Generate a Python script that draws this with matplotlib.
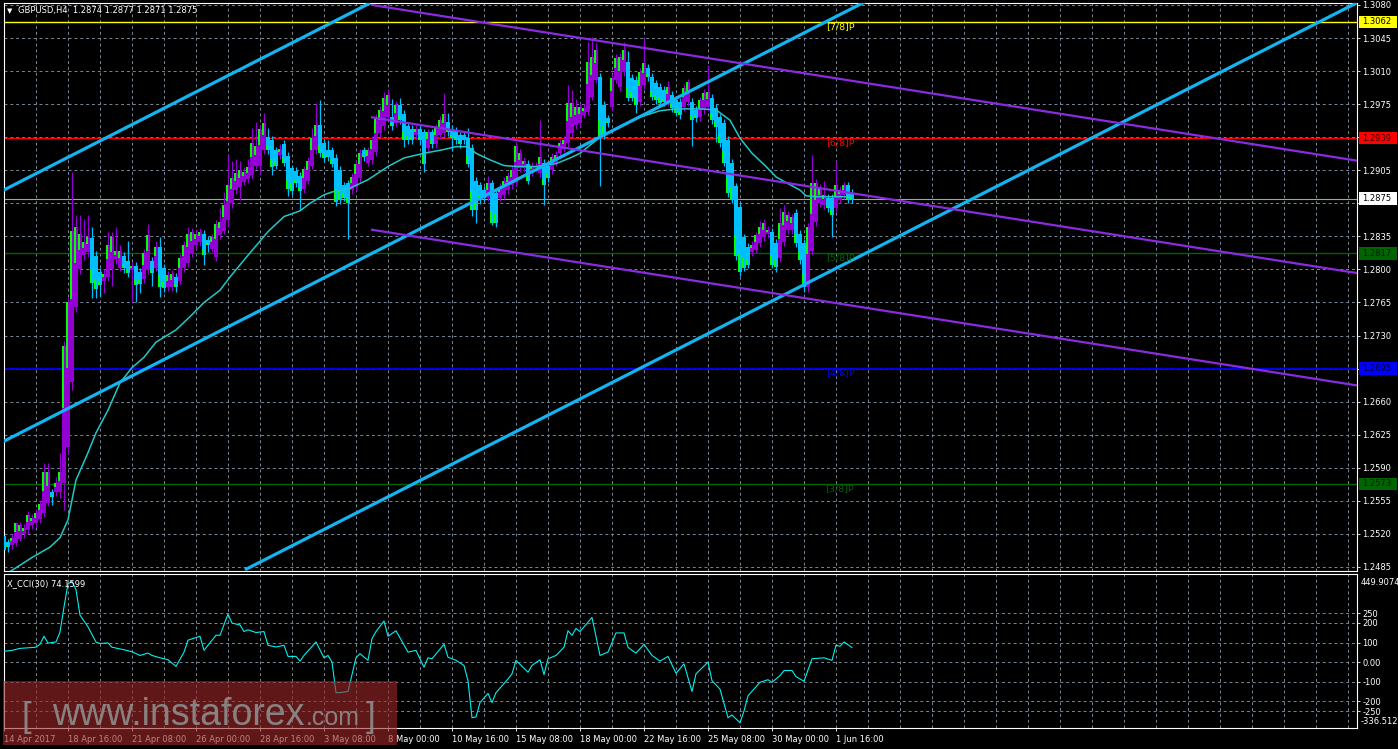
import matplotlib
matplotlib.use('Agg')

import matplotlib.pyplot as plt
from matplotlib.patches import Rectangle
from matplotlib.transforms import blended_transform_factory

# ---- GBPUSD H4 candles (bar index 0 = 14 Apr 2017 00:00) ----
opens = [
    1.2518, 1.2511, 1.2508, 1.2510, 1.2515, 1.2520, 1.2524, 1.2529, 1.2531, 1.2536,
    1.2542, 1.2553, 1.2564, 1.2564, 1.2564, 1.2574, 1.2612, 1.2681, 1.2760, 1.2800,
    1.2815, 1.2818, 1.2833, 1.2814, 1.2797, 1.2788, 1.2792, 1.2800, 1.2811, 1.2802,
    1.2814, 1.2809, 1.2799, 1.2804, 1.2797, 1.2790, 1.2799, 1.2809, 1.2802, 1.2824,
    1.2802, 1.2781, 1.2781, 1.2792, 1.2788, 1.2801, 1.2807, 1.2817, 1.2826, 1.2829,
    1.2838, 1.2831, 1.2822, 1.2813, 1.2836, 1.2841, 1.2852, 1.2870, 1.2884, 1.2887,
    1.2893, 1.2896, 1.2900, 1.2910, 1.2910, 1.2926, 1.2940, 1.2937, 1.2926, 1.2921,
    1.2933, 1.2920, 1.2907, 1.2904, 1.2899, 1.2885, 1.2894, 1.2910, 1.2926, 1.2953,
    1.2934, 1.2926, 1.2926, 1.2918, 1.2905, 1.2889, 1.2891, 1.2884, 1.2887, 1.2897,
    1.2926, 1.2913, 1.2916, 1.2924, 1.2944, 1.2952, 1.2961, 1.2961, 1.2955, 1.2974,
    1.2965, 1.2952, 1.2949, 1.2942, 1.2949, 1.2945, 1.2929, 1.2945, 1.2933, 1.2942,
    1.2944, 1.2956, 1.2949, 1.2947, 1.2942, 1.2942, 1.2939, 1.2929, 1.2894, 1.2889,
    1.2884, 1.2876, 1.2891, 1.2881, 1.2876, 1.2879, 1.2884, 1.2889, 1.2892, 1.2907,
    1.2907, 1.2912, 1.2903, 1.2907, 1.2902, 1.2913, 1.2910, 1.2905, 1.2913, 1.2923,
    1.2928, 1.2934, 1.2944, 1.2953, 1.2955, 1.2964, 1.2967, 1.2983, 1.3001, 1.3004,
    1.2974, 1.2960, 1.2972, 1.3001, 1.2993, 1.3009, 1.3020, 1.3003, 1.3001, 1.2977,
    1.2995, 1.3013, 1.3004, 1.2997, 1.2993, 1.2990, 1.2977, 1.2985, 1.2979, 1.2977,
    1.2972, 1.2977, 1.2977, 1.2969, 1.2961, 1.2969, 1.2972, 1.2982, 1.2971, 1.2961,
    1.2955, 1.2937, 1.2913, 1.2888, 1.2866, 1.2834, 1.2824, 1.2818, 1.2821, 1.2828,
    1.2834, 1.2837, 1.2840, 1.2828, 1.2812, 1.2829, 1.2842, 1.2842, 1.2860, 1.2838,
    1.2828, 1.2781, 1.2819, 1.2850, 1.2870, 1.2868, 1.2876, 1.2876, 1.2865, 1.2874,
    1.2879, 1.2889, 1.2881,
]
closes = [
    1.2503, 1.2506, 1.2516, 1.2531, 1.2529, 1.2526, 1.2540, 1.2537, 1.2542, 1.2552,
    1.2585, 1.2585, 1.2559, 1.2574, 1.2585, 1.2719, 1.2765, 1.2841, 1.2845, 1.2838,
    1.2829, 1.2834, 1.2786, 1.2779, 1.2783, 1.2795, 1.2826, 1.2834, 1.2819, 1.2820,
    1.2801, 1.2796, 1.2804, 1.2783, 1.2785, 1.2817, 1.2836, 1.2796, 1.2824, 1.2781,
    1.2780, 1.2794, 1.2795, 1.2781, 1.2812, 1.2826, 1.2838, 1.2840, 1.2838, 1.2840,
    1.2815, 1.2826, 1.2834, 1.2848, 1.2850, 1.2868, 1.2889, 1.2897, 1.2902, 1.2905,
    1.2903, 1.2908, 1.2934, 1.2931, 1.2949, 1.2955, 1.2926, 1.2908, 1.2910, 1.2928,
    1.2913, 1.2885, 1.2883, 1.2891, 1.2883, 1.2906, 1.2915, 1.2939, 1.2953, 1.2923,
    1.2918, 1.2919, 1.2912, 1.2871, 1.2873, 1.2876, 1.2870, 1.2898, 1.2912, 1.2923,
    1.2919, 1.2926, 1.2937, 1.2961, 1.2969, 1.2981, 1.2985, 1.2952, 1.2974, 1.2958,
    1.2937, 1.2937, 1.2937, 1.2949, 1.2937, 1.2912, 1.2945, 1.2933, 1.2950, 1.2958,
    1.2965, 1.2945, 1.2939, 1.2937, 1.2933, 1.2937, 1.2912, 1.2863, 1.2863, 1.2873,
    1.2876, 1.2891, 1.2849, 1.2849, 1.2887, 1.2894, 1.2899, 1.2905, 1.2931, 1.2923,
    1.2915, 1.2894, 1.2910, 1.2910, 1.2919, 1.2889, 1.2897, 1.2919, 1.2921, 1.2934,
    1.2937, 1.2976, 1.2976, 1.2972, 1.2972, 1.2971, 1.3020, 1.3025, 1.3032, 1.2940,
    1.2942, 1.2955, 1.3003, 1.3024, 1.3025, 1.3032, 1.2982, 1.2982, 1.2974, 1.3009,
    1.3019, 1.3004, 1.2983, 1.2979, 1.2976, 1.2977, 1.2993, 1.2971, 1.2966, 1.2963,
    1.2992, 1.2998, 1.2958, 1.2960, 1.2979, 1.2987, 1.2988, 1.2958, 1.2951, 1.2934,
    1.2913, 1.2881, 1.2874, 1.2814, 1.2797, 1.2802, 1.2805, 1.2826, 1.2836, 1.2845,
    1.2849, 1.2842, 1.2805, 1.2803, 1.2849, 1.2861, 1.2858, 1.2855, 1.2828, 1.2810,
    1.2781, 1.2845, 1.2892, 1.2892, 1.2886, 1.2879, 1.2865, 1.2858, 1.2889, 1.2884,
    1.2889, 1.2874, 1.2874,
]
highs = [
    1.2522, 1.2515, 1.2520, 1.2533, 1.2533, 1.2530, 1.2544, 1.2541, 1.2546, 1.2556,
    1.2595, 1.2595, 1.2568, 1.2580, 1.2606, 1.2724, 1.2771, 1.2903, 1.2858, 1.2858,
    1.2853, 1.2858, 1.2845, 1.2820, 1.2802, 1.2800, 1.2840, 1.2840, 1.2845, 1.2826,
    1.2818, 1.2830, 1.2808, 1.2808, 1.2801, 1.2822, 1.2848, 1.2813, 1.2830, 1.2834,
    1.2806, 1.2798, 1.2799, 1.2796, 1.2816, 1.2830, 1.2845, 1.2844, 1.2843, 1.2844,
    1.2842, 1.2835, 1.2838, 1.2852, 1.2865, 1.2882, 1.2921, 1.2915, 1.2917, 1.2915,
    1.2908, 1.2917, 1.2950, 1.2956, 1.2953, 1.2966, 1.2950, 1.2941, 1.2930, 1.2933,
    1.2937, 1.2924, 1.2911, 1.2908, 1.2903, 1.2910, 1.2919, 1.2950, 1.2976, 1.2979,
    1.2938, 1.2937, 1.2930, 1.2922, 1.2909, 1.2893, 1.2895, 1.2902, 1.2916, 1.2927,
    1.2930, 1.2930, 1.2941, 1.2965, 1.2973, 1.2988, 1.2991, 1.2980, 1.2978, 1.2981,
    1.2969, 1.2956, 1.2953, 1.2953, 1.2953, 1.2949, 1.2949, 1.2949, 1.2954, 1.2962,
    1.2987, 1.2966, 1.2953, 1.2951, 1.2946, 1.2946, 1.2950, 1.2933, 1.2898, 1.2893,
    1.2888, 1.2899, 1.2895, 1.2885, 1.2891, 1.2898, 1.2903, 1.2909, 1.2935, 1.2927,
    1.2919, 1.2916, 1.2914, 1.2914, 1.2958, 1.2917, 1.2914, 1.2923, 1.2925, 1.2938,
    1.2941, 1.2995, 1.2990, 1.2980, 1.2976, 1.2975, 1.3041, 1.3046, 1.3040, 1.3008,
    1.2978, 1.2964, 1.3007, 1.3028, 1.3029, 1.3041, 1.3031, 1.3007, 1.3005, 1.3013,
    1.3045, 1.3017, 1.3008, 1.3001, 1.2997, 1.2994, 1.3000, 1.2989, 1.2983, 1.2981,
    1.2996, 1.3002, 1.2981, 1.2973, 1.2983, 1.2991, 1.3016, 1.2986, 1.2975, 1.2965,
    1.2959, 1.2941, 1.2917, 1.2892, 1.2870, 1.2838, 1.2828, 1.2830, 1.2840, 1.2851,
    1.2853, 1.2846, 1.2844, 1.2832, 1.2865, 1.2868, 1.2862, 1.2859, 1.2864, 1.2842,
    1.2832, 1.2849, 1.2921, 1.2896, 1.2890, 1.2894, 1.2880, 1.2880, 1.2915, 1.2888,
    1.2893, 1.2893, 1.2885,
]
lows = [
    1.2498, 1.2501, 1.2504, 1.2507, 1.2512, 1.2516, 1.2520, 1.2525, 1.2527, 1.2532,
    1.2538, 1.2549, 1.2551, 1.2560, 1.2558, 1.2545, 1.2605, 1.2672, 1.2755, 1.2795,
    1.2810, 1.2813, 1.2770, 1.2770, 1.2772, 1.2775, 1.2788, 1.2782, 1.2806, 1.2798,
    1.2796, 1.2792, 1.2766, 1.2766, 1.2775, 1.2786, 1.2795, 1.2782, 1.2798, 1.2771,
    1.2776, 1.2777, 1.2777, 1.2776, 1.2784, 1.2797, 1.2803, 1.2813, 1.2822, 1.2825,
    1.2805, 1.2818, 1.2818, 1.2809, 1.2832, 1.2837, 1.2845, 1.2865, 1.2880, 1.2873,
    1.2889, 1.2892, 1.2896, 1.2906, 1.2900, 1.2922, 1.2922, 1.2900, 1.2906, 1.2917,
    1.2909, 1.2878, 1.2879, 1.2887, 1.2863, 1.2881, 1.2890, 1.2906, 1.2922, 1.2919,
    1.2914, 1.2915, 1.2908, 1.2867, 1.2869, 1.2872, 1.2832, 1.2880, 1.2883, 1.2893,
    1.2915, 1.2909, 1.2912, 1.2920, 1.2940, 1.2948, 1.2957, 1.2948, 1.2951, 1.2954,
    1.2930, 1.2933, 1.2933, 1.2938, 1.2933, 1.2903, 1.2925, 1.2929, 1.2929, 1.2938,
    1.2940, 1.2941, 1.2925, 1.2933, 1.2929, 1.2933, 1.2908, 1.2857, 1.2849, 1.2869,
    1.2872, 1.2872, 1.2847, 1.2845, 1.2872, 1.2875, 1.2880, 1.2885, 1.2888, 1.2903,
    1.2903, 1.2890, 1.2899, 1.2903, 1.2898, 1.2868, 1.2893, 1.2901, 1.2909, 1.2919,
    1.2924, 1.2930, 1.2940, 1.2949, 1.2951, 1.2960, 1.2963, 1.2979, 1.2997, 1.2888,
    1.2938, 1.2951, 1.2968, 1.2997, 1.2989, 1.3005, 1.2978, 1.2978, 1.2966, 1.2973,
    1.2991, 1.3000, 1.2979, 1.2975, 1.2972, 1.2973, 1.2973, 1.2967, 1.2962, 1.2959,
    1.2968, 1.2973, 1.2931, 1.2956, 1.2957, 1.2965, 1.2968, 1.2954, 1.2935, 1.2930,
    1.2909, 1.2877, 1.2870, 1.2810, 1.2793, 1.2798, 1.2801, 1.2814, 1.2817, 1.2824,
    1.2830, 1.2833, 1.2801, 1.2797, 1.2808, 1.2825, 1.2838, 1.2838, 1.2824, 1.2806,
    1.2776, 1.2776, 1.2815, 1.2846, 1.2866, 1.2864, 1.2861, 1.2834, 1.2861, 1.2870,
    1.2875, 1.2870, 1.2870,
]

# moving average (vertices)
ma_bars = [0, 7, 11.5, 14, 16, 18, 21, 23, 26, 29, 32, 35, 38, 43, 46.5,
           50, 54, 56.5, 61, 66, 70, 74, 76.5, 80, 82, 86.5, 91, 96, 100, 105,
           110, 113, 116, 118, 121.5, 125, 128, 133, 138, 141.5, 144, 149, 154, 158, 164,
           168, 174, 178, 181.5, 184, 187, 190.5, 193, 195.5, 199, 200.5, 203, 206.5, 211.5]
ma_vals = [1.2476, 1.2495, 1.2506, 1.2516, 1.2535, 1.2577, 1.2606, 1.2627, 1.2651, 1.2680,
           1.2696, 1.2707, 1.2723, 1.2736, 1.2750, 1.2765, 1.2778, 1.2792, 1.2815, 1.2840,
           1.2856, 1.2862, 1.2870, 1.2879, 1.2882, 1.2886, 1.2895, 1.2909, 1.2918, 1.2923,
           1.2927, 1.2930, 1.2930, 1.2923, 1.2916, 1.2910, 1.2909, 1.2909, 1.2912, 1.2918,
           1.2923, 1.2940, 1.2951, 1.2960, 1.2968, 1.2970, 1.2970, 1.2969, 1.2958, 1.2939,
           1.2923, 1.2909, 1.2898, 1.2892, 1.2884, 1.2878, 1.2877, 1.2877, 1.2877]

# X_CCI(30)
cci_bars = [0, 2, 4, 6, 8, 9, 10, 11, 13, 14, 15, 16, 17, 18, 19, 21, 23, 24, 26, 27,
            30, 32, 34, 36, 37, 39, 41, 43, 45, 46, 49, 50, 51, 53, 54, 56, 57, 59, 60, 61,
            63, 65, 66, 68, 70, 71, 73, 74, 75, 78, 80, 81, 82, 83, 84, 86, 88, 89, 91, 92,
            93, 95, 96, 98, 101, 103, 105, 106, 107, 110, 111, 113, 115, 116, 117, 118, 119, 121, 122, 123,
            126, 127, 128, 131, 132, 134, 135, 136, 138, 140, 141, 142, 143, 144, 147, 149, 151, 153, 155, 156,
            157, 158, 160, 162, 164, 166, 168, 170, 172, 173, 176, 177, 179, 181, 182, 184, 185, 186, 189, 191,
            192, 194, 195, 197, 198, 200, 202, 205, 207, 208, 209, 210, 212]
cci_vals = [55, 60, 70, 73, 76, 91, 132, 97, 103, 153, 282, 400, 412, 370, 240, 180, 102, 95, 98, 76,
            63, 53, 34, 46, 34, 22, 12, -22, 51, 112, 132, 60, 86, 137, 137, 245, 199, 190, 156, 165,
            151, 156, 86, 77, 86, 29, 29, 5, 34, 103, 22, 34, 0, -156, -156, -150, 22, 43, 9, 120,
            156, 210, 132, 160, 51, 60, -26, 22, 17, 91, 25, 9, -17, -95, -284, -280, -207, -160, -207, -156,
            -86, -60, 9, -52, -17, 12, -64, 17, 34, 76, 160, 137, 172, 156, 228, 34, 51, 149, 149, 76,
            60, 46, 91, 34, 5, 29, -57, -9, -150, -60, 0, -95, -138, -284, -270, -310, -250, -172, -103, -90,
            -103, -69, -43, -43, -74, -98, 17, 22, 9, 86, 81, 103, 74.1599]

# time axis
label_bars = [0, 16, 32, 48, 64, 80, 96, 112, 128, 144, 160, 176, 192, 208]
time_labels = ["14 Apr 2017", "18 Apr 16:00", "21 Apr 08:00", "26 Apr 00:00", "28 Apr 16:00",
               "3 May 08:00", "8 May 00:00", "10 May 16:00", "15 May 08:00", "18 May 00:00",
               "22 May 16:00", "25 May 08:00", "30 May 00:00", "1 Jun 16:00"]
price_ticks = [1.3080, 1.3045, 1.3010, 1.2975, 1.2940, 1.2905, 1.2870, 1.2835, 1.2800,
               1.2765, 1.2730, 1.2695, 1.2660, 1.2625, 1.2590, 1.2555, 1.2520, 1.2485]
# tick labels that sit under a coloured level box in the terminal
hidden_ticks = [1.2940, 1.2870, 1.2695]
cci_ticks = [250, 200, 100, 0, -100, -200, -250]
cci_tick_labels = ["250", "200", "100", "0.00", "-100", "-200", "-250"]

# Murrey levels
levels = [1.3062, 1.2939, 1.2817, 1.2695, 1.2573]
level_names = ["[7/8]P", "[6/8]P", "[5/8]P", "[4/8]P", "[3/8]P"]
level_colors = ["#ffff00", "#ff0000", "#006400", "#0000ff", "#006400"]
level_text = ["#000000", "#3a0000", "#001a00", "#00003a", "#001a00"]
last_price = 1.2875

# rising channel lines: (bar, price) end points
rise_lines = [((-1, 1.2882), (91.5, 1.3082)),
              ((-1, 1.2616), (216, 1.3085)),
              ((60.25, 1.2482), (338.5, 1.3083))]
# falling channel: middle line and half width
fall_bars = [92, 338.5]
fall_mid = [1.2961, 1.2796]
fall_half = 0.0119

W, H = 1398, 749
BG = "black"
GRID = "#778899"
BULL = "#9400d3"
BEAR = "#00bfff"
LIME = "#00ff00"
FS = 6

fig = plt.figure(figsize=(W / 100, H / 100), dpi=100, facecolor=BG)
ax = fig.add_axes([3.5 / W, (H - 571) / H, (1357 - 3.5) / W, 568 / H])
ax2 = fig.add_axes([3.5 / W, (H - 728) / H, (1357 - 3.5) / W, 154 / H])

for a in (ax, ax2):
    a.set_facecolor(BG)
    a.set_xlim(-0.125, 338.25)
    for s in a.spines.values():
        s.set_color("white")
        s.set_linewidth(0.8)
    for g in range(0, 339, 8):
        a.axvline(g, color=GRID, lw=0.7, ls=(0, (3, 3)), zorder=0)

ax.set_ylim(1.24807, 1.30821)
for p in price_ticks:
    ax.axhline(p, color=GRID, lw=0.7, ls=(0, (3, 3)), zorder=0)

# level lines
for lv, nm, col in zip(levels, level_names, level_colors):
    ax.axhline(lv, color=col, lw=1.0 if col != "#0000ff" else 1.3, zorder=1)
    ax.text(209, lv, nm, color=col, fontsize=6.8, ha="center", va="top", zorder=6)
ax.axhline(last_price, color="#9aa4b0", lw=0.8, zorder=1)

# candles
for i in range(len(opens)):
    o, c, h, l = opens[i], closes[i], highs[i], lows[i]
    up = c >= o
    col = BULL if up else BEAR
    ax.vlines(i, l, h, color=col, lw=0.9, zorder=2)
    lo, hi = min(o, c), max(o, c)
    ax.bar(i, max(hi - lo, 0.00004), bottom=lo, width=0.78, color=col, linewidth=0, zorder=3)
    if up:
        ax.bar(i - 0.24, (hi - lo) * 0.45, bottom=hi - (hi - lo) * 0.45, width=0.3,
               color=LIME, linewidth=0, zorder=3)
    else:
        ax.bar(i - 0.24, (hi - lo) * 0.3, bottom=lo, width=0.3,
               color=LIME, linewidth=0, zorder=3)

ax.plot(ma_bars, ma_vals, color="#20c8c8", lw=1.1, zorder=4)

for (b0, p0), (b1, p1) in rise_lines:
    ax.plot([b0, b1], [p0, p1], color="#12b4f2", lw=2.3, zorder=5, solid_capstyle="butt")
for off in (fall_half, 0, -fall_half):
    ax.plot(fall_bars, [fall_mid[0] + off, fall_mid[1] + off], color="#8a2be2", lw=1.6, zorder=5)

# right price axis
ax.yaxis.tick_right()
ax.set_yticks(price_ticks)
ax.set_yticklabels(["" if p in hidden_ticks else f"{p:.4f}" for p in price_ticks])
ax.set_xticks([])
ax.tick_params(axis="y", colors="white", labelsize=FS, length=2, width=0.6, pad=2)

trans = blended_transform_factory(fig.transFigure, ax.transData)
box_levels = levels + [last_price]
box_colors = level_colors + ["#ffffff"]
box_text = level_text + ["#000000"]
for lv, bc, tc in zip(box_levels, box_colors, box_text):
    ax.add_patch(Rectangle((1359 / W, lv - 0.00066), 38 / W, 0.00132, transform=trans,
                           facecolor=bc, edgecolor="none", clip_on=False, zorder=10))
    ax.text(1362 / W, lv, f"{lv:.4f}", transform=trans, color=tc, fontsize=FS,
            ha="left", va="center", clip_on=False, zorder=11)

# CCI panel
ax2.set_ylim(-336.512, 449.9074)
for t in cci_ticks:
    ax2.axhline(t, color=GRID, lw=0.7, ls=(0, (3, 3)), zorder=0)
ax2.plot(cci_bars, cci_vals, color="#00f0f0", lw=0.8, zorder=3)
ax2.yaxis.tick_right()
ax2.set_yticks(cci_ticks)
ax2.set_yticklabels(cci_tick_labels)
ax2.tick_params(axis="y", colors="white", labelsize=FS, length=2, width=0.6, pad=2)
ax2.text(1.003, 0.948, "449.9074", transform=ax2.transAxes, color="white", fontsize=FS,
         ha="left", va="center", clip_on=False)
ax2.text(1.003, 0.04, "-336.512", transform=ax2.transAxes, color="white", fontsize=FS,
         ha="left", va="center", clip_on=False)
ax2.set_xticks(label_bars)
ax2.set_xticklabels(time_labels, ha="left")
ax2.tick_params(axis="x", colors="white", labelsize=FS, length=2, width=0.6, pad=3)

# header texts
fig.text(7 / W, 1 - 11 / H, "\u25bc", color="white", fontsize=5, va="center")
fig.text(18 / W, 1 - 11 / H, "GBPUSD,H4  1.2874 1.2877 1.2871 1.2875", color="white",
         fontsize=FS, va="center")
fig.text(7 / W, 1 - 584 / H, "X_CCI(30) 74.1599", color="white", fontsize=FS, va="center")

# watermark
fig.add_artist(Rectangle((3 / W, 1 - 745 / H), 394 / W, 64 / H, transform=fig.transFigure,
                         facecolor="#a02828", edgecolor="none", alpha=0.6, zorder=5))
wm = dict(color="#8e8e8e", alpha=0.9, family="Liberation Sans", va="baseline", zorder=6)
fig.text(22 / W, 1 - 727 / H, "[", fontsize=25, **wm)
fig.text(52 / W, 1 - 725 / H, "www.instaforex", fontsize=27, **wm)
fig.text(306 / W, 1 - 725 / H, ".com", fontsize=18, **wm)
fig.text(366 / W, 1 - 727 / H, "]", fontsize=25, **wm)

fig.savefig("out.png", dpi=100, facecolor=BG)
